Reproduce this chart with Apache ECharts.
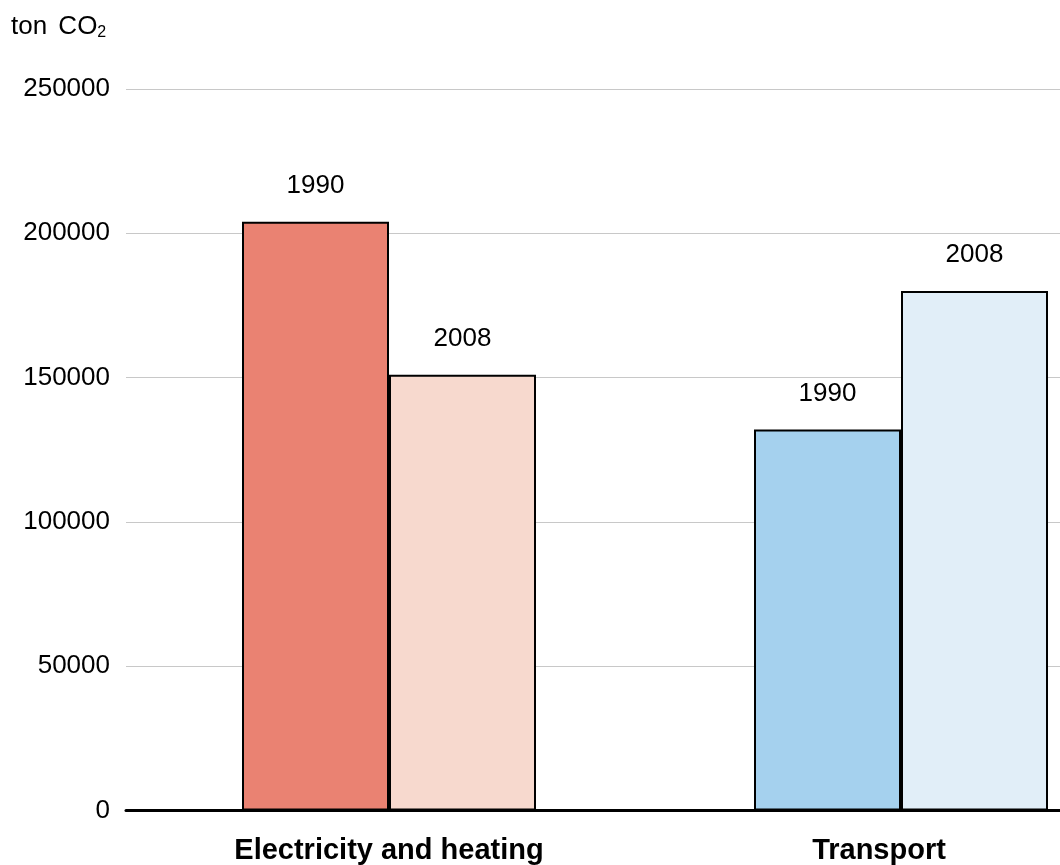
<!DOCTYPE html>
<html>
<head>
<meta charset="utf-8">
<script src="https://cdn.jsdelivr.net/npm/echarts@6/dist/echarts.min.js"></script>
<style>
  html, body { margin: 0; padding: 0; background: #fff; }
  #chart { width: 1060px; height: 865px; }
</style>
</head>
<body>
<div id="chart"></div>
<script>
// CO2 emissions by sector, 1990 vs 2008 (ton CO2)
const categories = ['Electricity and heating', 'Transport'];
const years = ['1990', '2008'];
const values1990 = [204000, 132000];
const values2008 = [151000, 180000];
const yTicks = [0, 50000, 100000, 150000, 200000, 250000];

// fill colours per sector, one per year
const sectorColors = [
  ['#EA8272', '#F7D9CE'],
  ['#A5D1EE', '#E1EEF8']
];
// extra right padding on each sector label (nudges the text left)
const labelPadRight = [0, 44];

const FONT = "'Liberation Sans', Arial, sans-serif";
const yMin = yTicks[0];
const yMax = yTicks[yTicks.length - 1];
const yStep = yTicks[1] - yTicks[0];

function buildSeries(name, values, yearIdx) {
  return {
    name: name,
    type: 'bar',
    xAxisIndex: 1,
    yAxisIndex: 1,
    barWidth: 147,
    barGap: '0%',
    data: values.map((v, i) => ({
      value: v,
      itemStyle: { color: sectorColors[i][yearIdx] }
    })),
    itemStyle: { borderColor: '#000', borderWidth: 2 },
    label: {
      show: true,
      position: 'top',
      distance: 23,
      formatter: name,
      color: '#000',
      fontSize: 26,
      fontFamily: FONT
    },
    z: 3
  };
}

const chart = echarts.init(document.getElementById('chart'), null, { renderer: 'canvas' });
chart.setOption({
  animation: false,
  backgroundColor: '#fff',
  title: {
    text: '{a|ton} {c|CO}{b|2}',
    left: 11,
    top: 13,
    padding: 0,
    textStyle: {
      fontWeight: 'normal',
      fontSize: 26,
      fontFamily: FONT,
      color: '#000',
      rich: {
        a: { fontSize: 26, fontWeight: 'normal', fontFamily: FONT, color: '#000', lineHeight: 28 },
        c: { fontSize: 26, fontWeight: 'normal', fontFamily: FONT, color: '#000', lineHeight: 28, padding: [0, 0, 0, 4] },
        b: { fontSize: 16, fontWeight: 'normal', fontFamily: FONT, color: '#000', verticalAlign: 'bottom', lineHeight: 16 }
      }
    }
  },
  grid: [
    { left: 126, right: 0, top: 89, bottom: 54.5, outerBoundsMode: 'none' },
    { left: 133, width: 1024, top: 89, bottom: 54.5, outerBoundsMode: 'none' }
  ],
  xAxis: [
    {
      type: 'category',
      gridIndex: 0,
      data: categories,
      axisLine: { show: true, lineStyle: { color: '#000', width: 3 } },
      axisTick: { show: false },
      axisLabel: { show: false },
      splitLine: { show: false },
      z: 10
    },
    {
      type: 'category',
      gridIndex: 1,
      data: categories.map((c, i) => ({
        value: c,
        textStyle: { padding: [0, labelPadRight[i], 0, 0] }
      })),
      axisLine: { show: false },
      axisTick: { show: false },
      axisLabel: {
        interval: 0,
        margin: 26,
        color: '#000',
        fontSize: 29,
        fontWeight: 'bold',
        fontFamily: FONT
      }
    }
  ],
  yAxis: [
    {
      type: 'value',
      gridIndex: 0,
      min: yMin,
      max: yMax,
      interval: yStep,
      axisLine: { show: false },
      axisTick: { show: false },
      axisLabel: {
        margin: 16,
        color: '#000',
        fontSize: 26,
        fontFamily: FONT,
        formatter: v => String(v)
      },
      splitLine: { show: true, lineStyle: { color: '#c8c8c8', width: 1 } }
    },
    {
      type: 'value',
      gridIndex: 1,
      min: yMin,
      max: yMax,
      interval: yStep,
      show: false,
      splitLine: { show: false }
    }
  ],
  series: [
    buildSeries(years[0], values1990, 0),
    buildSeries(years[1], values2008, 1)
  ]
});
</script>
</body>
</html>
